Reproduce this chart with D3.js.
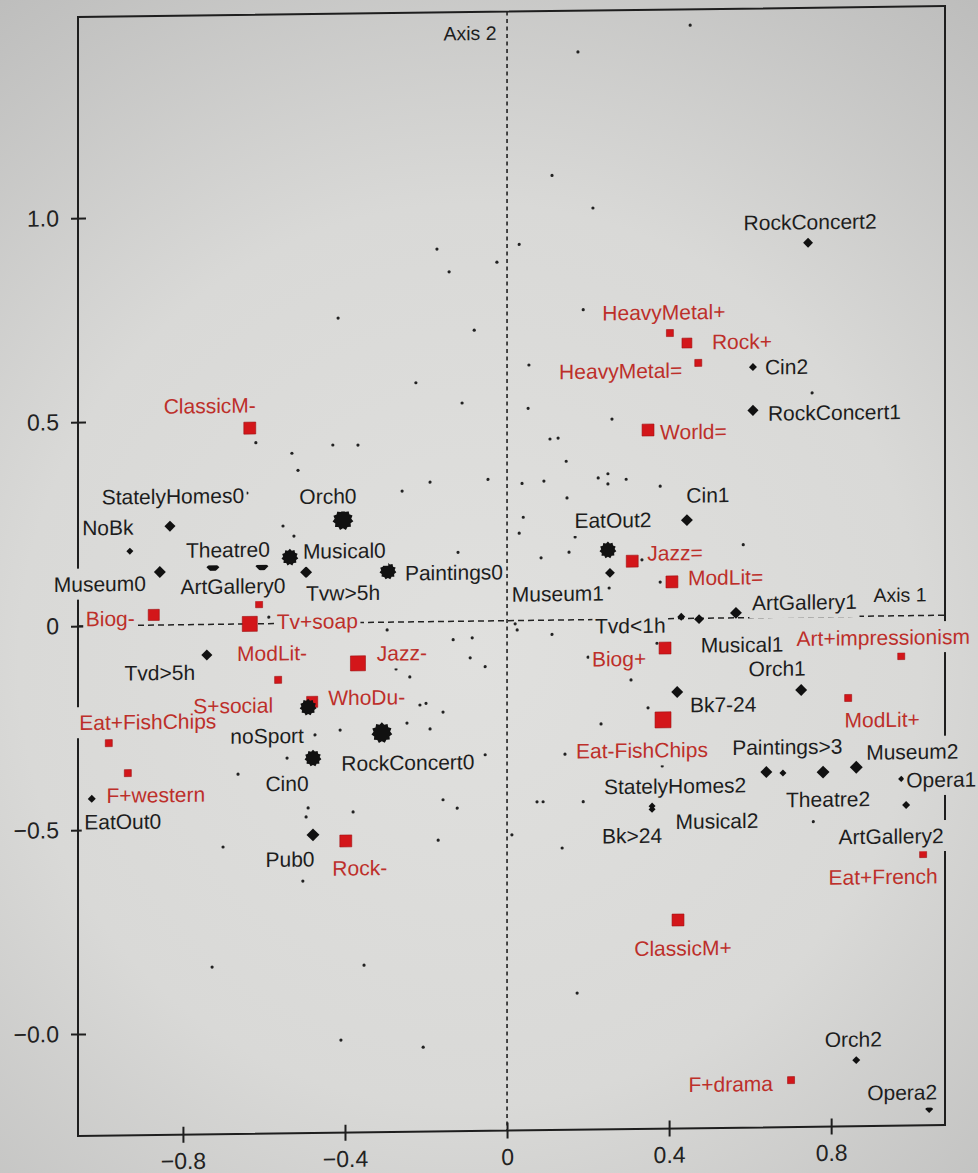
<!DOCTYPE html>
<html>
<head>
<meta charset="utf-8">
<script src="https://cdn.jsdelivr.net/npm/d3@7"></script>
<style>
  html, body { margin: 0; padding: 0; background: #d2d2d0; }
  svg { display: block; }
</style>
</head>
<body>
<svg id="chart" width="978" height="1173"></svg>
<script>
// Active categories: coordinates on axis 1 / axis 2 and their weights
const activeNames = ["RockConcert2","Cin2","RockConcert1","Cin1","EatOut2","Museum1","Tvd<1h","Musical1",
  "ArtGallery1","Orch1","Bk7-24","Paintings>3","Musical2","StatelyHomes2","Bk>24","Theatre2","Museum2",
  "Opera1","ArtGallery2","Orch2","Opera2","NoBk","StatelyHomes0","Museum0","Orch0","Musical0","Theatre0",
  "ArtGallery0","Tvw>5h","Paintings0","Tvd>5h","noSport","RockConcert0","Cin0","EatOut0","Pub0"];
const activeX = [0.743,0.607,0.607,0.444,0.249,0.254,0.430,0.474,0.565,0.726,0.420,0.640,0.681,0.358,0.358,
  0.780,0.862,0.973,0.985,0.862,1.042,-0.931,-0.832,-0.857,-0.405,-0.536,-0.605,-0.726,-0.496,-0.294,-0.741,
  -0.491,-0.309,-0.479,-1.025,-0.479];
const activeY = [0.917,0.614,0.508,0.241,0.170,0.114,0.004,-0.002,0.012,-0.179,-0.180,-0.379,-0.382,-0.459,
  -0.467,-0.381,-0.370,-0.400,-0.464,-1.088,-1.210,0.182,0.242,0.130,0.252,0.162,0.141,0.140,0.125,0.125,
  -0.075,-0.206,-0.271,-0.331,-0.424,-0.519];
const activeWeight = [2.0,1.3,2.5,2.9,5.9,2.0,1.3,2.0,2.9,2.9,2.9,2.9,1.0,1.0,1.0,3.4,3.4,0.8,1.3,1.3,1.3,
  1.0,2.5,2.9,9.0,5.9,3.4,3.4,2.9,5.9,2.5,5.9,9.0,5.9,1.3,3.4];

// Supplementary categories (projected afterwards)
const suppNames = ["HeavyMetal+","Rock+","HeavyMetal=","ClassicM-","World=","Jazz=","ModLit=","Biog+",
  "Eat-FishChips","Art+impressionism","ModLit+","Eat+French","ClassicM+","F+drama","Biog-","Tv+soap",
  "ModLit-","S+social","Jazz-","WhoDu-","Eat+FishChips","F+western","Rock-"];
const suppX = [0.402,0.444,0.472,-0.635,0.348,0.309,0.407,0.390,0.385,0.973,0.842,1.027,0.422,0.701,-0.872,
  -0.635,-0.612,-0.565,-0.368,-0.481,-0.983,-0.936,-0.398];
const suppY = [0.700,0.675,0.626,0.480,0.463,0.142,0.090,-0.072,-0.248,-0.099,-0.200,-0.585,-0.739,-1.135,
  0.025,0.000,0.048,-0.138,-0.100,-0.193,-0.288,-0.362,-0.535];
const suppWeight = [1,2,1,2.9,2.9,2.9,2.9,2.9,5.2,1,1,1,2.9,1,2.5,4.6,1,1,4.6,2.5,1,1,2.9];

// Individuals
const indX = [0.452,0.175,0.111,0.212,0.030,-0.025,-0.173,-0.143,-0.417,-0.081,0.188,0.054,-0.225,-0.111,
  0.753,0.052,0.259,0.106,0.126,0.146,-0.259,-0.190,-0.047,0.037,0.091,0.225,0.249,0.249,0.294,0.378,0.148,
  0.040,0.030,0.168,0.583,0.153,0.084,0.333,0.378,0.252,-0.642,-0.620,-0.430,-0.368,-0.531,-0.516,-0.553,
  -0.526,-0.121,-0.588,-0.296,-0.133,-0.086,-0.091,-0.054,-0.274,-0.240,-0.215,-0.200,-0.158,-0.247,-0.190,
  -0.054,-0.543,-0.158,-0.123,-0.170,0.025,0.111,0.200,0.306,0.232,0.143,0.074,0.089,0.188,0.012,0.136,
  0.383,0.756,0.173,-0.664,-0.496,-0.491,-0.380,-0.701,-0.504,-0.728,-0.353,-0.410,-0.207,0.370,0.348,
  -0.474,-0.412,0.020];
const indY = [1.454,1.392,1.090,1.009,0.922,0.879,0.913,0.857,0.747,0.713,0.760,0.626,0.586,0.535,0.549,
  0.520,0.491,0.444,0.446,0.389,0.321,0.342,0.347,0.336,0.341,0.347,0.357,0.332,0.343,0.325,0.299,0.253,
  0.214,0.203,0.179,0.166,0.153,0.145,0.090,0.077,0.321,0.444,0.436,0.435,0.417,0.375,0.239,0.214,0.169,
  0.016,-0.019,-0.045,-0.041,-0.090,-0.112,-0.115,-0.135,-0.204,-0.200,-0.222,-0.248,-0.263,-0.328,-0.330,
  -0.437,-0.458,-0.536,-0.023,-0.035,-0.092,-0.149,-0.256,-0.329,-0.445,-0.445,-0.446,-0.525,-0.559,-0.361,
  -0.502,-0.915,-0.368,-0.475,-0.453,-0.464,-0.546,-0.632,-0.840,-0.840,-1.023,-1.043,-0.060,-0.218,
  -0.274,-0.263,-0.008];

// Tick values and their printed labels
const xTickValues = [-0.8, -0.4, 0, 0.4, 0.8];
const xTickLabels = ["\u22120.8", "\u22120.4", "0", "0.4", "0.8"];
const yTickValues = [1.0, 0.5, 0, -0.5, -1.0];
const yTickLabels = ["1.0", "0.5", "0", "\u22120.5", "\u22120.0"];
const axisTitles = ["Axis 1", "Axis 2"];

// Label placement: pixel offset from the point and text anchor (m/s/e)
const labelPlacement = {
  "RockConcert2":[2,-21,"m"], "Cin2":[12,0,"s"], "RockConcert1":[15,3,"s"], "Cin1":[21,-25,"m"],
  "EatOut2":[5,-30,"m"], "Museum1":[-52,20,"m"], "Tvd<1h":[-51,8,"m"], "Musical1":[43,26,"m"],
  "ArtGallery1":[16,-10,"s"], "Orch1":[-24,-22,"m"], "Bk7-24":[46,13,"m"], "Paintings>3":[21,-25,"m"],
  "Musical2":[-66,47,"m"], "StatelyHomes2":[23,-20,"m"], "Bk>24":[-20,26,"m"], "Theatre2":[5,27,"m"],
  "Museum2":[56,-15,"m"], "Opera1":[5,1,"s"], "ArtGallery2":[-15,31,"m"], "Orch2":[-3,-21,"m"],
  "Opera2":[-27,-17,"m"], "NoBk":[-22,-24,"m"], "StatelyHomes0":[3,-30,"m"], "Museum0":[-60,11,"m"],
  "Orch0":[-15,-24,"m"], "Musical0":[13,-6,"s"], "Theatre0":[-34,-17,"m"], "ArtGallery0":[20,19,"m"],
  "Tvw>5h":[37,21,"m"], "Paintings0":[17,2,"s"], "Tvd>5h":[-47,17,"m"], "noSport":[-41,28,"m"],
  "RockConcert0":[26,30,"m"], "Cin0":[-26,25,"m"], "EatOut0":[31,23,"m"], "Pub0":[-23,24,"m"],
  "HeavyMetal+":[-6,-21,"m"], "Rock+":[25,-1,"s"], "HeavyMetal=":[-16,7,"e"], "ClassicM-":[-40,-23,"m"],
  "World=":[12,2,"s"], "Jazz=":[15,-8,"s"], "ModLit=":[16,-4,"s"], "Biog+":[-46,10,"m"],
  "Eat-FishChips":[-21,30,"m"], "Art+impressionism":[-18,-19,"m"], "ModLit+":[34,22,"m"],
  "Eat+French":[-40,22,"m"], "ClassicM+":[5,28,"m"], "F+drama":[-18,3,"e"], "Biog-":[-19,3,"e"],
  "Tv+soap":[27,-2,"s"], "ModLit-":[13,49,"m"], "S+social":[-45,25,"m"], "Jazz-":[44,-10,"m"],
  "WhoDu-":[16,-4,"s"], "Eat+FishChips":[39,-21,"m"], "F+western":[28,22,"m"], "Rock-":[14,27,"m"]
};

const FONT = "'Liberation Sans', Arial, Helvetica, sans-serif";
const INK = "#1d1d1d";
const RED_TEXT = "#bd2f2a";
const RED_FILL = "#d3161a";

const svg = d3.select("#chart");

// paper tone
const defs = svg.append("defs");
const grad = defs.append("radialGradient").attr("id", "paper")
  .attr("gradientUnits", "userSpaceOnUse")
  .attr("cx", 470).attr("cy", 660).attr("r", 820);
grad.append("stop").attr("offset", 0).attr("stop-color", "#e0e0de");
grad.append("stop").attr("offset", 0.55).attr("stop-color", "#d9d9d7");
grad.append("stop").attr("offset", 1).attr("stop-color", "#bdbdbc");

// scales
const x = d3.scaleLinear().domain([-1.059, 1.081]).range([78, 945]);
const y = d3.scaleLinear().domain([-1.250, 1.493]).range([1136, 17]);
const size = d3.scaleSqrt().domain([0, 9]).range([0, 21]);

// the printed page sits slightly askew
const g = svg.append("g").attr("transform", "translate(78,0) skewY(-0.72) translate(-78,0)");

g.append("rect").attr("x", -80).attr("y", -80).attr("width", 1140).attr("height", 1340)
  .attr("fill", "url(#paper)");

// frame
g.append("rect").attr("x", x.range()[0]).attr("y", y.range()[1])
  .attr("width", x.range()[1] - x.range()[0]).attr("height", y.range()[0] - y.range()[1])
  .attr("fill", "none").attr("stroke", "#1e1e1e").attr("stroke-width", 2);

// dashed reference axes through the origin
g.append("line").attr("x1", x.range()[0]).attr("x2", x.range()[1]).attr("y1", y(0)).attr("y2", y(0))
  .attr("stroke", "#222").attr("stroke-width", 1.5).attr("stroke-dasharray", "6,4");
g.append("line").attr("x1", x(0)).attr("x2", x(0)).attr("y1", y.range()[1]).attr("y2", y.range()[0])
  .attr("stroke", "#222").attr("stroke-width", 1.6).attr("stroke-dasharray", "4,3.5");

// axes
const yAxis = d3.axisLeft(y).tickValues(yTickValues)
  .tickFormat((d, i) => yTickLabels[i]).tickSize(7).tickPadding(12);
const yg = g.append("g").attr("transform", `translate(${x.range()[0]},0)`).call(yAxis);
yg.select(".domain").remove();
yg.selectAll(".tick line").attr("x1", 8).attr("stroke", "#1e1e1e").attr("stroke-width", 2);
yg.selectAll(".tick text").attr("fill", "#222").style("font-family", FONT).style("font-size", "23px");

const xAxis = d3.axisBottom(x).tickValues(xTickValues)
  .tickFormat((d, i) => xTickLabels[i]).tickSize(8).tickPadding(10);
const xg = g.append("g").attr("transform", `translate(0,${y.range()[0]})`).call(xAxis);
xg.select(".domain").remove();
xg.selectAll(".tick line").attr("y1", -8).attr("stroke", "#1e1e1e").attr("stroke-width", 2);
xg.selectAll(".tick text").attr("fill", "#222").style("font-family", FONT).style("font-size", "23px");

// individuals
g.append("g").selectAll("circle").data(indX).join("circle")
  .attr("cx", (d) => x(d)).attr("cy", (d, i) => y(indY[i])).attr("r", 1.6).attr("fill", "#222");

// supplementary categories as red squares
g.append("g").selectAll("rect").data(suppX).join("rect")
  .attr("x", (d, i) => x(d) - size(suppWeight[i]) / 2)
  .attr("y", (d, i) => y(suppY[i]) - size(suppWeight[i]) / 2)
  .attr("width", (d, i) => size(suppWeight[i]))
  .attr("height", (d, i) => size(suppWeight[i]))
  .attr("fill", RED_FILL).attr("stroke", "#9e1012").attr("stroke-width", 0.6);

// active categories: diamonds, heavy ones as ragged blobs
function diamondPath(w) {
  const h = w / 2;
  return `M0,${-h}L${h},0L0,${h}L${-h},0Z`;
}
function blobPath(w) {
  const R = w / 2, r = R * 0.8, n = 11, pts = [];
  for (let k = 0; k < 2 * n; k++) {
    const a = (Math.PI * k) / n;
    const rr = k % 2 === 0 ? R : r;
    pts.push([rr * Math.sin(a), -rr * Math.cos(a)]);
  }
  return "M" + pts.map((p) => p[0].toFixed(2) + "," + p[1].toFixed(2)).join("L") + "Z";
}
g.append("g").selectAll("path").data(activeX).join("path")
  .attr("transform", (d, i) => `translate(${x(d)},${y(activeY[i])})`)
  .attr("d", (d, i) => activeWeight[i] >= 5 ? blobPath(size(activeWeight[i])) : diamondPath(size(activeWeight[i])))
  .attr("fill", "#111");

// labels sit on small paper-coloured boxes; all boxes go below all texts
const boxLayer = g.append("g");
const textLayer = g.append("g");
function drawLabel(text, px, py, anchor, color, fontSize) {
  const t = textLayer.append("text")
    .attr("x", px).attr("y", py).attr("dy", "0.36em")
    .attr("text-anchor", anchor === "s" ? "start" : anchor === "e" ? "end" : "middle")
    .attr("fill", color).style("font-family", FONT).style("font-size", fontSize + "px")
    .text(text);
  const b = t.node().getBBox();
  boxLayer.append("rect")
    .attr("x", b.x - 2.5).attr("y", b.y - 4)
    .attr("width", b.width + 5).attr("height", b.height + 8)
    .attr("fill", "url(#paper)");
}

activeNames.forEach((n, i) => {
  const [dx, dy, a] = labelPlacement[n];
  drawLabel(n, x(activeX[i]) + dx, y(activeY[i]) + dy, a, INK, 21);
});
suppNames.forEach((n, i) => {
  const [dx, dy, a] = labelPlacement[n];
  drawLabel(n, x(suppX[i]) + dx, y(suppY[i]) + dy, a, RED_TEXT, 21);
});

// axis titles
drawLabel(axisTitles[0], x(0.970), y(0) - 21, "m", INK, 19.5);
drawLabel(axisTitles[1], x(0) - 37, y.range()[1] + 21, "m", INK, 19.5);
</script>
</body>
</html>
